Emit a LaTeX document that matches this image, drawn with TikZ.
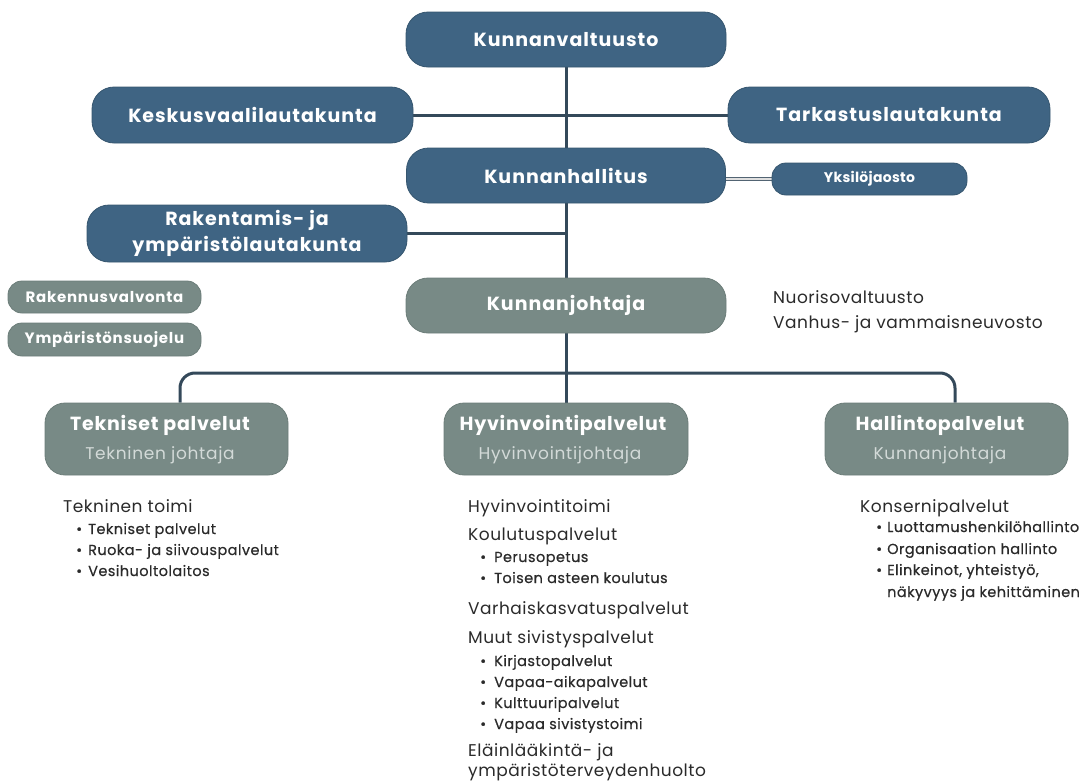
\documentclass[tikz,border=0pt]{standalone}
\usepackage{fontspec}
\usetikzlibrary{backgrounds}
\setmainfont{Poppins}
\newfontfamily\pmed{Poppins}[FakeBold=0.5]
\definecolor{boxblue}{HTML}{3F6483}
\definecolor{boxedge}{HTML}{36566F}
\definecolor{boxgrey}{HTML}{788A86}
\definecolor{greyedge}{HTML}{6C7D79}
\definecolor{conncol}{HTML}{34495A}
\definecolor{txt}{HTML}{2A2A2A}
\definecolor{subtxt}{HTML}{D3DAD8}
\begin{document}
\begin{tikzpicture}[x=1pt,y=-1pt,
  bluebox/.style={draw=boxedge, fill=boxblue, line width=0.8pt, rounded corners=22pt, inner sep=0pt,
    text=white, align=center, font=\bfseries\fontsize{19}{26}\selectfont\addfontfeature{LetterSpace=5}},
  greybox/.style={bluebox, draw=greyedge, fill=boxgrey},
  smallbox/.style={rounded corners=14pt, font=\bfseries\fontsize{15}{16}\selectfont\addfontfeature{LetterSpace=5}},
  yksbox/.style={rounded corners=14pt, font=\bfseries\fontsize{14}{16}\selectfont\addfontfeature{LetterSpace=2}},
  boxtitle/.style={inner sep=0pt, text=white, font=\bfseries\fontsize{19}{20}\selectfont\addfontfeature{LetterSpace=4}},
  boxsub/.style={inner sep=0pt, text=subtxt, font=\fontsize{17}{18}\selectfont\addfontfeature{LetterSpace=4}},
  head/.style={inner sep=0pt, anchor=base west, text=txt, font=\fontsize{17}{20}\selectfont\addfontfeature{LetterSpace=3}},
  item/.style={inner sep=0pt, anchor=base west, text=txt, font=\pmed\fontsize{14.5}{16}\selectfont\addfontfeature{LetterSpace=3}},
  conn/.style={draw=conncol, line width=3pt},
  dblconn/.style={draw=conncol!85, line width=1.1pt, double=white!75!gray, double distance=1.4pt}
]
\useasboundingbox (0,0) rectangle (1088,782);

% main boxes
\node[bluebox, minimum width=320pt, minimum height=55pt] (kv) at (566,39.5) {Kunnanvaltuusto};
\node[bluebox, minimum width=321pt, minimum height=56pt] (kes) at (252.5,115) {Keskusvaalilautakunta};
\node[bluebox, minimum width=322pt, minimum height=56pt] (tar) at (889,115) {Tarkastuslautakunta};
\node[bluebox, minimum width=319pt, minimum height=55pt] (kh) at (566,175.5) {Kunnanhallitus};
\node[bluebox, yksbox, minimum width=195pt, minimum height=32pt] (yks) at (869.5,179) {Yksilöjaosto};
\node[bluebox, minimum width=320pt, minimum height=57pt] (rak) at (247,233.5) {Rakentamis- ja\\ympäristölautakunta};
\node[greybox, minimum width=320pt, minimum height=55pt] (kj) at (566,305.5) {Kunnanjohtaja};
\node[greybox, smallbox, minimum width=193pt, minimum height=32pt] (rv) at (104.5,297) {Rakennusvalvonta};
\node[greybox, smallbox, minimum width=193pt, minimum height=33pt] (ys) at (104.5,339.5) {Ympäristönsuojelu};

% bottom boxes
\node[greybox, rounded corners=20pt, minimum width=243pt, minimum height=72pt] (tek) at (166.5,439) {};
\node[boxtitle] (tekT) at (160,425) {Tekniset palvelut};
\node[boxsub] (tekS) at (160,455) {Tekninen johtaja};
\node[greybox, rounded corners=20pt, minimum width=244pt, minimum height=72pt] (hyv) at (566,439) {};
\node[boxtitle] (hyvT) at (563,425) {Hyvinvointipalvelut};
\node[boxsub] (hyvS) at (560,455) {Hyvinvointijohtaja};
\node[greybox, rounded corners=20pt, minimum width=243pt, minimum height=72pt] (hal) at (946.5,439) {};
\node[boxtitle] (halT) at (940,425) {Hallintopalvelut};
\node[boxsub] (halS) at (940,455) {Kunnanjohtaja};

% connectors
\coordinate (bar) at (566,373);
\begin{scope}[on background layer]
\draw[conn] (kv.south) -- (hyv.north);
\draw[conn] (kes.east) -- (tar.west);
\draw[conn] (rak.east) -- (rak.east -| kv.south);
\draw[dblconn] (yks.west -| kh.east) -- (yks.west);
\draw[conn, rounded corners=15pt] ([xshift=13.5pt]tek.north) |- (bar) -| ([xshift=8.5pt]hal.north);
\end{scope}

% side text
\node[head] (nuo) at (773,303) {Nuorisovaltuusto};
\node[head] (van) at (773,328) {Vanhus- ja vammaisneuvosto};

% Tekniset list
\node[head] (t0) at (63,512) {Tekninen toimi};
\node[item] (t1) at (76,534) {\makebox[12pt][l]{•}Tekniset palvelut};
\node[item] (t2) at (76,555) {\makebox[12pt][l]{•}Ruoka- ja siivouspalvelut};
\node[item] (t3) at (76,576) {\makebox[12pt][l]{•}Vesihuoltolaitos};

% Hyvinvointi list
\node[head] (h0) at (468,512) {Hyvinvointitoimi};
\node[head] (h1) at (468,540) {Koulutuspalvelut};
\node[item] (h2) at (480,562) {\makebox[14pt][l]{•}Perusopetus};
\node[item] (h3) at (480,583) {\makebox[14pt][l]{•}Toisen asteen koulutus};
\node[head] (h4) at (468,614) {Varhaiskasvatuspalvelut};
\node[head] (h5) at (468,643) {Muut sivistyspalvelut};
\node[item] (h6) at (480,666) {\makebox[14pt][l]{•}Kirjastopalvelut};
\node[item] (h7) at (480,687) {\makebox[14pt][l]{•}Vapaa-aikapalvelut};
\node[item] (h8) at (480,708) {\makebox[14pt][l]{•}Kulttuuripalvelut};
\node[item] (h9) at (480,729) {\makebox[14pt][l]{•}Vapaa sivistystoimi};
\node[head] (h10) at (468,756) {Eläinlääkintä- ja};
\node[head] (h11) at (468,776) {ympäristöterveydenhuolto};

% Hallinto list
\node[head] (k0) at (860,512) {Konsernipalvelut};
\node[item] (k1) at (876,532) {\makebox[11pt][l]{•}Luottamushenkilöhallinto};
\node[item] (k2) at (876,554) {\makebox[11pt][l]{•}Organisaation hallinto};
\node[item] (k3) at (876,575) {\makebox[11pt][l]{•}Elinkeinot, yhteistyö,};
\node[item] (k4) at (887,597) {näkyvyys ja kehittäminen};
\end{tikzpicture}
\end{document}
